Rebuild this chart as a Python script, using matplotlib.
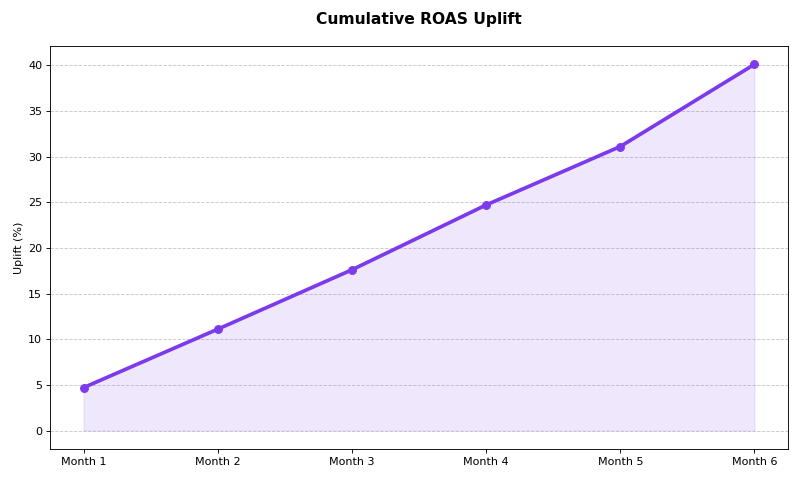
import matplotlib
matplotlib.use('Agg')
import matplotlib.pyplot as plt

months = ["Month 1", "Month 2", "Month 3", "Month 4", "Month 5", "Month 6"]
uplift = [4.7, 11.1, 17.6, 24.7, 31.1, 40.1]

color = "#7c3aed"
fig, ax = plt.subplots(figsize=(10, 6), dpi=80)
fig.subplots_adjust(left=0.0625, right=0.985, top=0.904, bottom=0.065)

x = list(range(len(months)))
ax.fill_between(x, uplift, 0, color=color, alpha=0.12)
ax.plot(x, uplift, color=color, lw=3.3, marker='o', ms=7)
ax.set_xticks(x)
ax.set_xticklabels(months)
ax.set_yticks(range(0, 45, 5))
ax.tick_params(labelsize=10)
ax.set_ylim(-2, 42.1)
ax.set_xlim(-0.25, 5.25)
ax.grid(axis='y', linestyle='--', color='#bbbbbb', alpha=0.8)
ax.set_axisbelow(True)
ax.set_ylabel("Uplift (%)", fontsize=10)
ax.set_title("Cumulative ROAS Uplift", fontsize=14, fontweight='bold', pad=20)

plt.savefig("out.png", dpi=80)
